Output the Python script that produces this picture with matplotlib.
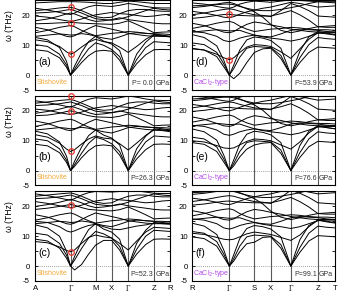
import matplotlib
matplotlib.use("Agg")
import matplotlib.pyplot as plt

plt.rcParams['font.family'] = ['Liberation Sans', 'DejaVu Sans']

# k-path distances (knots) for the two structures
k_left = [0, 12, 24, 31, 35, 39, 46, 53, 60, 68, 76, 84, 92.6, 101, 110, 118.3, 126.5, 134.8]
k_right = [0, 12.5, 25, 32, 37.6, 42, 48, 55, 62.6, 71, 79, 89, 99, 108, 117, 126, 135, 143.3]
sym_idx = [0, 4, 8, 10, 12, 15, 17]
labels_left = ['A', 'Γ', 'M', 'X', 'Γ', 'Z', 'R']
labels_right = ['R', 'Γ', 'S', 'X', 'Γ', 'Z', 'T']

pressures = ['P= 0.0', 'P=26.3', 'P=52.3', 'P=53.9', 'P=76.6', 'P=99.1']
phases = ['Stishovite', 'Stishovite', 'Stishovite', 'CaCl$_2$-type', 'CaCl$_2$-type', 'CaCl$_2$-type']
panel_tags = ['(a)', '(b)', '(c)', '(d)', '(e)', '(f)']
raman_gamma = [[7.0, 17.6, 22.7], [6.4, 20.0, 25.0], [4.8, 20.6], [5.2, 20.4], [], []]

bands_a = [
    [8.5, 8.0, 5.8, 2.6, 0.0, 1.4, 4.2, 6.5, 8.0, 8.3, 8.0, 5.0, 0.0, 3.8, 6.8, 8.5, 8.6, 8.5],
    [10.2, 9.6, 7.0, 3.4, 0.0, 2.0, 5.6, 8.8, 10.8, 10.0, 8.6, 6.2, 0.0, 5.2, 9.2, 11.2, 11.0, 10.8],
    [12.6, 11.8, 9.2, 4.6, 0.0, 3.0, 7.6, 11.2, 13.0, 11.4, 10.4, 8.2, 0.0, 7.0, 11.0, 13.4, 13.0, 12.8],
    [11.8, 11.2, 9.6, 7.8, 7.0, 7.6, 9.4, 11.0, 12.0, 11.2, 10.8, 9.4, 7.6, 9.6, 12.0, 13.6, 13.2, 12.8],
    [13.0, 13.4, 13.8, 13.6, 13.4, 13.5, 13.9, 13.6, 13.0, 12.4, 12.0, 12.8, 13.8, 14.2, 14.0, 13.8, 13.4, 13.0],
    [14.2, 15.0, 16.0, 16.4, 16.6, 16.2, 15.0, 14.0, 13.2, 13.6, 14.0, 14.2, 14.6, 14.4, 14.0, 13.8, 13.8, 13.6],
    [16.0, 15.2, 13.8, 13.0, 12.8, 13.2, 14.4, 15.6, 16.6, 16.0, 15.4, 14.8, 14.0, 13.6, 13.2, 13.0, 13.0, 13.0],
    [17.2, 17.3, 17.5, 17.6, 17.6, 17.6, 17.4, 17.3, 17.2, 17.1, 17.0, 17.4, 18.2, 17.0, 15.6, 14.2, 14.4, 14.5],
    [18.2, 18.8, 19.8, 20.5, 20.8, 20.5, 19.6, 18.6, 18.0, 18.2, 18.6, 19.2, 18.6, 18.2, 17.8, 17.4, 17.2, 17.2],
    [19.8, 19.4, 18.6, 18.2, 18.0, 18.2, 18.8, 19.6, 20.2, 20.6, 21.0, 20.6, 20.4, 20.0, 19.6, 19.8, 20.2, 20.4],
    [21.6, 22.0, 22.5, 22.7, 22.7, 22.4, 21.6, 20.6, 19.6, 19.2, 19.4, 20.6, 21.6, 22.0, 22.0, 21.6, 21.4, 21.4],
    [22.4, 21.8, 21.0, 20.5, 20.3, 20.8, 22.0, 22.9, 23.4, 23.2, 23.0, 23.4, 24.0, 23.6, 23.0, 22.6, 22.5, 22.5],
    [24.2, 24.4, 24.6, 24.6, 24.6, 24.6, 24.5, 24.4, 24.2, 24.0, 24.0, 24.4, 24.8, 24.6, 24.3, 24.0, 24.0, 24.0],
    [20.8, 21.0, 21.4, 21.8, 22.0, 21.6, 20.8, 19.8, 18.9, 18.6, 18.4, 18.8, 19.6, 20.6, 21.6, 22.4, 22.0, 21.8],
]

bands_b = [
    [8.8, 8.3, 6.0, 2.7, 0.0, 1.4, 4.3, 6.7, 8.3, 8.6, 8.3, 5.2, 0.0, 3.9, 7.0, 8.8, 8.9, 8.8],
    [10.6, 10.0, 7.3, 3.5, 0.0, 2.0, 5.8, 9.1, 11.2, 10.4, 9.0, 6.4, 0.0, 5.4, 9.6, 11.6, 11.4, 11.2],
    [13.2, 12.3, 9.6, 4.8, 0.0, 3.1, 7.9, 11.7, 13.6, 11.9, 10.9, 8.6, 0.0, 7.3, 11.5, 14.0, 13.6, 13.4],
    [12.0, 11.2, 9.2, 7.2, 6.4, 7.0, 8.9, 10.6, 11.6, 10.9, 10.6, 9.0, 6.9, 9.2, 11.8, 13.6, 13.4, 13.0],
    [13.6, 14.0, 14.4, 14.2, 14.0, 14.1, 14.5, 14.2, 13.6, 13.0, 12.6, 13.4, 14.4, 14.8, 14.6, 14.4, 14.0, 13.6],
    [14.8, 15.6, 16.6, 17.0, 17.2, 16.8, 15.6, 14.6, 13.8, 14.2, 14.6, 14.8, 15.2, 15.0, 14.6, 14.4, 14.4, 14.2],
    [16.6, 15.8, 14.4, 13.6, 13.4, 13.8, 15.0, 16.2, 17.2, 16.6, 16.0, 15.4, 14.6, 14.2, 13.8, 13.6, 13.6, 13.6],
    [18.4, 18.6, 19.2, 19.8, 20.0, 19.8, 19.0, 18.4, 18.0, 17.9, 17.8, 18.2, 19.0, 17.8, 16.4, 15.0, 15.2, 15.3],
    [19.2, 19.8, 20.6, 21.2, 21.5, 21.2, 20.4, 19.4, 18.8, 19.0, 19.4, 20.0, 19.4, 19.0, 18.6, 18.2, 18.0, 18.0],
    [20.6, 20.2, 19.4, 19.0, 18.8, 19.0, 19.6, 20.4, 21.0, 21.4, 21.8, 21.4, 21.2, 20.8, 20.4, 20.6, 21.0, 21.2],
    [22.6, 23.0, 23.5, 23.7, 23.8, 23.5, 22.6, 21.6, 20.6, 20.2, 20.4, 21.6, 22.6, 23.0, 23.0, 22.6, 22.4, 22.4],
    [23.4, 22.8, 22.0, 21.5, 21.3, 21.8, 23.0, 23.9, 24.4, 24.2, 24.0, 24.4, 25.0, 24.6, 24.0, 23.6, 23.5, 23.5],
    [25.2, 25.4, 25.6, 25.4, 25.0, 25.4, 25.6, 25.5, 25.2, 25.0, 25.0, 25.4, 25.8, 25.6, 25.3, 25.0, 25.0, 25.0],
    [21.8, 22.0, 22.4, 22.8, 23.0, 22.6, 21.8, 20.8, 19.9, 19.6, 19.4, 19.8, 20.6, 21.6, 22.6, 23.4, 23.0, 22.8],
]

bands_c = [
    [9.0, 8.4, 6.0, 2.6, 0.0, -1.3, 0.5, 4.0, 7.0, 8.6, 8.6, 5.4, 0.0, 4.0, 7.2, 9.0, 9.1, 9.0],
    [11.0, 10.4, 7.6, 3.6, 0.0, 2.0, 5.9, 9.4, 11.6, 10.8, 9.4, 6.6, 0.0, 5.6, 10.0, 12.0, 11.8, 11.6],
    [13.8, 12.8, 10.0, 5.0, 0.0, 3.2, 8.2, 12.2, 14.2, 12.4, 11.4, 9.0, 0.0, 7.6, 12.0, 14.6, 14.2, 14.0],
    [8.2, 7.8, 6.4, 5.2, 4.8, 5.4, 7.6, 9.6, 10.4, 9.8, 9.4, 7.6, 5.4, 8.4, 11.4, 13.0, 12.8, 12.6],
    [14.2, 14.6, 15.0, 14.8, 14.6, 14.7, 15.1, 14.8, 14.2, 13.6, 13.2, 14.0, 15.0, 15.4, 15.2, 15.0, 14.6, 14.2],
    [15.4, 16.2, 17.2, 17.6, 17.8, 17.4, 16.2, 15.2, 14.4, 14.8, 15.2, 15.4, 15.8, 15.6, 15.2, 15.0, 15.0, 14.8],
    [17.2, 16.4, 15.0, 14.2, 14.0, 14.4, 15.6, 16.8, 17.8, 17.2, 16.6, 16.0, 15.2, 14.8, 14.4, 14.2, 14.2, 14.2],
    [19.0, 19.4, 20.0, 20.4, 20.6, 20.4, 19.6, 19.0, 18.8, 18.6, 18.5, 18.9, 19.8, 18.6, 17.2, 15.8, 16.0, 16.1],
    [20.0, 20.6, 21.4, 22.0, 22.3, 22.0, 21.2, 20.2, 19.6, 19.8, 20.2, 20.8, 20.2, 19.8, 19.4, 19.0, 18.8, 18.8],
    [21.6, 21.0, 20.2, 19.8, 19.6, 19.8, 20.4, 21.2, 21.8, 22.2, 22.6, 22.2, 22.0, 21.6, 21.2, 21.4, 21.8, 22.0],
    [23.4, 23.8, 24.2, 24.4, 24.5, 24.2, 23.4, 22.4, 21.4, 21.0, 21.2, 22.4, 23.4, 23.8, 23.8, 23.4, 23.2, 23.2],
    [24.2, 23.6, 22.8, 22.3, 22.1, 22.6, 23.8, 24.6, 25.0, 24.9, 24.8, 25.0, 25.4, 25.2, 24.8, 24.4, 24.3, 24.3],
    [22.6, 22.8, 23.2, 23.6, 23.8, 23.4, 22.6, 21.6, 20.7, 20.4, 20.2, 20.6, 21.4, 22.4, 23.4, 24.2, 23.8, 23.6],
    [15.0, 14.6, 13.2, 11.8, 11.4, 11.8, 12.8, 13.6, 14.0, 13.2, 12.4, 12.2, 12.8, 13.4, 13.8, 14.4, 14.4, 14.4],
]

bands_d = [
    [9.0, 8.4, 6.2, 2.8, 0.0, -1.2, 0.6, 4.2, 7.6, 8.8, 9.0, 5.6, 0.0, 4.2, 7.6, 9.4, 9.2, 9.0],
    [10.8, 10.2, 7.6, 3.8, 0.0, 2.2, 6.0, 9.0, 9.6, 9.4, 9.2, 6.6, 0.0, 5.8, 10.2, 12.6, 12.2, 12.0],
    [13.6, 12.6, 9.8, 5.0, 0.0, 3.4, 8.4, 11.8, 12.8, 12.4, 11.6, 9.0, 0.0, 8.0, 12.8, 14.6, 14.0, 13.6],
    [8.8, 8.4, 7.0, 5.8, 5.2, 5.8, 7.6, 9.4, 10.2, 10.0, 9.6, 7.8, 5.6, 8.8, 12.0, 14.2, 13.8, 13.4],
    [14.4, 14.8, 15.2, 15.0, 14.8, 14.9, 15.0, 14.2, 13.4, 13.0, 12.8, 13.8, 15.0, 15.4, 15.2, 15.0, 14.6, 14.4],
    [15.6, 16.4, 17.4, 17.8, 18.0, 17.6, 16.4, 15.4, 14.6, 15.0, 15.4, 15.6, 16.0, 15.8, 15.4, 15.2, 15.2, 15.0],
    [17.4, 16.6, 15.2, 14.4, 14.2, 14.6, 15.8, 17.0, 17.8, 17.4, 16.8, 16.2, 15.4, 15.0, 14.6, 14.4, 14.4, 14.4],
    [19.0, 19.4, 20.0, 20.3, 20.4, 20.2, 20.0, 19.9, 19.8, 19.8, 19.8, 20.6, 21.6, 20.2, 18.4, 16.2, 16.4, 16.6],
    [20.2, 20.8, 21.6, 22.0, 22.2, 22.0, 21.4, 20.8, 20.2, 20.0, 19.6, 21.6, 24.0, 23.0, 21.6, 19.8, 19.6, 19.4],
    [21.4, 20.8, 20.0, 19.4, 19.2, 19.6, 20.4, 21.2, 21.8, 22.4, 22.8, 23.6, 24.4, 24.0, 23.4, 22.8, 23.0, 23.2],
    [22.6, 23.0, 23.6, 23.8, 23.8, 23.6, 23.0, 22.4, 21.8, 21.6, 21.6, 22.0, 22.6, 23.2, 24.0, 24.6, 24.4, 24.2],
    [24.2, 23.8, 23.0, 22.6, 22.4, 22.8, 23.8, 24.4, 24.8, 24.6, 24.4, 24.8, 25.2, 25.0, 24.8, 24.6, 24.6, 24.6],
    [23.2, 23.4, 23.8, 24.2, 24.4, 24.0, 23.2, 22.2, 21.2, 19.4, 17.0, 15.0, 14.2, 14.8, 15.6, 16.2, 16.0, 16.0],
    [14.6, 14.2, 13.0, 11.6, 11.2, 11.6, 12.4, 13.0, 13.4, 12.8, 12.4, 12.0, 11.4, 12.0, 13.0, 14.0, 14.2, 14.2],
]

bands_e = [
    [9.4, 8.8, 6.4, 2.9, 0.0, 1.6, 4.6, 7.2, 8.6, 9.2, 9.4, 5.8, 0.0, 4.4, 8.0, 9.8, 9.6, 9.4],
    [11.2, 10.6, 7.9, 3.9, 0.0, 2.4, 6.4, 9.4, 10.0, 9.8, 9.6, 6.9, 0.0, 6.0, 10.6, 13.0, 12.6, 12.4],
    [14.0, 13.0, 10.2, 5.2, 0.0, 3.6, 8.8, 12.2, 13.2, 12.8, 12.0, 9.4, 0.0, 8.4, 13.2, 15.0, 14.4, 14.0],
    [10.0, 9.6, 8.4, 7.6, 7.4, 7.6, 8.6, 9.8, 10.6, 10.4, 10.0, 8.6, 7.2, 9.6, 12.6, 14.8, 14.4, 14.0],
    [15.0, 15.4, 15.8, 15.6, 15.4, 15.5, 15.6, 14.8, 14.0, 13.6, 13.4, 14.4, 15.6, 16.0, 15.8, 15.6, 15.2, 15.0],
    [16.2, 17.0, 18.0, 18.4, 18.6, 18.2, 17.0, 16.0, 15.2, 15.6, 16.0, 16.2, 16.6, 16.4, 16.0, 15.8, 15.8, 15.6],
    [18.0, 17.2, 15.8, 15.0, 14.8, 15.2, 16.4, 17.6, 18.4, 18.0, 17.4, 16.8, 16.0, 15.6, 15.2, 15.0, 15.0, 15.0],
    [19.8, 20.2, 20.8, 21.1, 21.2, 21.0, 20.8, 20.7, 20.6, 20.6, 20.6, 21.4, 22.4, 21.0, 19.2, 17.0, 17.2, 17.4],
    [21.0, 21.6, 22.4, 22.8, 23.0, 22.8, 22.2, 21.6, 21.0, 20.8, 20.4, 22.4, 24.8, 23.8, 22.4, 20.6, 20.4, 20.2],
    [22.2, 21.6, 20.8, 20.2, 20.0, 20.4, 21.2, 22.0, 22.6, 23.2, 23.6, 24.4, 25.2, 24.8, 24.2, 23.6, 23.8, 24.0],
    [23.4, 23.8, 24.4, 24.6, 24.6, 24.4, 23.8, 23.2, 22.6, 22.4, 22.4, 22.8, 23.4, 24.0, 24.8, 25.4, 25.2, 25.0],
    [25.0, 24.6, 23.8, 23.4, 23.2, 23.6, 24.6, 25.2, 25.6, 25.4, 25.2, 25.6, 26.0, 25.8, 25.6, 25.4, 25.4, 25.4],
    [24.0, 24.2, 24.6, 25.0, 25.2, 24.8, 24.0, 23.0, 22.0, 20.2, 17.8, 15.8, 15.0, 15.6, 16.4, 17.0, 16.8, 16.8],
    [15.2, 14.8, 13.6, 12.2, 11.8, 12.2, 13.0, 13.6, 14.0, 13.4, 13.0, 12.6, 12.0, 12.6, 13.6, 14.6, 14.8, 14.8],
]

bands_f = [
    [9.8, 9.2, 6.7, 3.0, 0.0, 1.7, 4.8, 7.5, 8.0, 9.6, 9.8, 6.0, 0.0, 4.6, 8.4, 10.2, 10.0, 9.8],
    [11.6, 11.0, 8.2, 4.0, 0.0, 2.5, 6.7, 9.8, 10.4, 10.2, 10.0, 7.2, 0.0, 6.2, 11.0, 13.4, 13.0, 12.8],
    [14.4, 13.4, 10.6, 5.4, 0.0, 3.8, 9.2, 12.6, 13.6, 13.2, 12.4, 9.8, 0.0, 8.8, 13.6, 15.4, 14.8, 14.4],
    [11.0, 10.6, 9.6, 9.0, 8.8, 9.0, 9.8, 10.8, 11.4, 11.0, 10.6, 9.6, 8.6, 10.4, 13.2, 15.4, 15.0, 14.6],
    [15.6, 16.0, 16.4, 16.2, 16.0, 16.1, 16.2, 15.4, 14.6, 14.2, 14.0, 15.0, 16.2, 16.6, 16.4, 16.2, 15.8, 15.6],
    [16.8, 17.6, 18.6, 19.0, 19.2, 18.8, 17.6, 16.6, 15.8, 16.2, 16.6, 16.8, 17.2, 17.0, 16.6, 16.4, 16.4, 16.2],
    [18.6, 17.8, 16.4, 15.6, 15.4, 15.8, 17.0, 18.2, 19.0, 18.6, 18.0, 17.4, 16.6, 16.2, 15.8, 15.6, 15.6, 15.6],
    [20.4, 20.8, 21.4, 21.7, 21.8, 21.6, 21.4, 21.3, 21.2, 21.2, 21.2, 22.0, 23.0, 21.6, 19.8, 17.6, 17.8, 18.0],
    [21.6, 22.2, 23.0, 23.4, 23.6, 23.4, 22.8, 22.2, 21.6, 21.4, 21.0, 23.0, 25.4, 24.4, 23.0, 21.2, 21.0, 20.8],
    [22.8, 22.2, 21.4, 20.8, 20.6, 21.0, 21.8, 22.6, 23.2, 23.8, 24.2, 25.0, 25.8, 25.4, 24.8, 24.2, 24.4, 24.6],
    [24.0, 24.4, 25.0, 25.2, 25.2, 25.0, 24.4, 23.8, 23.2, 23.0, 23.0, 23.4, 24.0, 24.6, 25.4, 26.0, 25.8, 25.6],
    [24.6, 24.8, 25.2, 25.6, 25.8, 25.4, 24.6, 23.6, 22.6, 20.8, 18.4, 16.4, 15.6, 16.2, 17.0, 17.6, 17.4, 17.4],
    [15.8, 15.4, 14.2, 12.8, 12.4, 12.8, 13.6, 14.2, 14.6, 14.0, 13.6, 13.2, 12.6, 13.2, 14.2, 15.2, 15.4, 15.4],
]

all_bands = [bands_a, bands_b, bands_c, bands_d, bands_e, bands_f]

fig = plt.figure(figsize=(3.39, 2.93), dpi=100)

col_x = [(0.1047, 0.3982), (0.5655, 0.4233)]
row_y = [0.6928, 0.3669, 0.0410]
row_h = 0.3055

orange = '#f2a93b'
purple = '#b44ae8'
red = '#e8352a'

for p in range(6):
    col = p // 3
    row = p % 3
    ax = fig.add_axes([col_x[col][0], row_y[row], col_x[col][1], row_h])
    k = k_left if col == 0 else k_right
    labels = labels_left if col == 0 else labels_right

    for band in all_bands[p]:
        ax.plot(k, band, color='black', lw=0.7)

    for i in sym_idx[1:-1]:
        ax.axvline(k[i], color='0.35', lw=0.8, zorder=1)
    ax.axhline(0, color='0.5', lw=0.6, ls=(0, (1, 1.5)), zorder=1)

    for w in raman_gamma[p]:
        ax.plot(k[4], w, 'o', ms=4, mfc='none', mec=red, mew=0.9,
                clip_on=False, zorder=5)

    ax.set_xlim(k[0], k[-1])
    ax.set_ylim(-5, 25)
    ax.set_yticks([-5, 0, 5, 10, 15, 20, 25])
    ax.set_yticklabels(['-5', '0', '', '10', '', '20', ''])
    ax.tick_params(axis='y', direction='in', length=2, width=0.6,
                   labelsize=5.6, right=True, pad=3 if col else 4)
    ax.set_xticks([k[i] for i in sym_idx])
    if row == 2:
        ax.set_xticklabels(labels)
        ax.tick_params(axis='x', length=0, labelsize=5.6, pad=3)
        for t in ax.get_xticklabels():
            if t.get_text() == 'Γ':
                t.set_fontfamily('Liberation Serif')
    else:
        ax.set_xticklabels([])
        ax.tick_params(axis='x', length=0)
    for s in ax.spines.values():
        s.set_linewidth(0.8)

    if col == 0:
        ax.set_ylabel('ω (THz)', fontsize=6.2)
        ax.yaxis.set_label_coords(-0.16, 0.715)

    ax.text(0.025, 0.316, panel_tags[p], transform=ax.transAxes,
            fontsize=7.5, va='center', ha='left')
    ax.text(0.01, 0.086, phases[p], transform=ax.transAxes, fontsize=5,
            va='center', ha='left', color=orange if col == 0 else purple)
    zk = k[sym_idx[5]]
    ax.text(zk - 1.2, -2.7, pressures[p], fontsize=5, color='0.2',
            ha='right', va='center')
    ax.text(zk + 1.2, -2.7, 'GPa', fontsize=5, color='0.2',
            ha='left', va='center')

fig.savefig('out.png', dpi=100)
